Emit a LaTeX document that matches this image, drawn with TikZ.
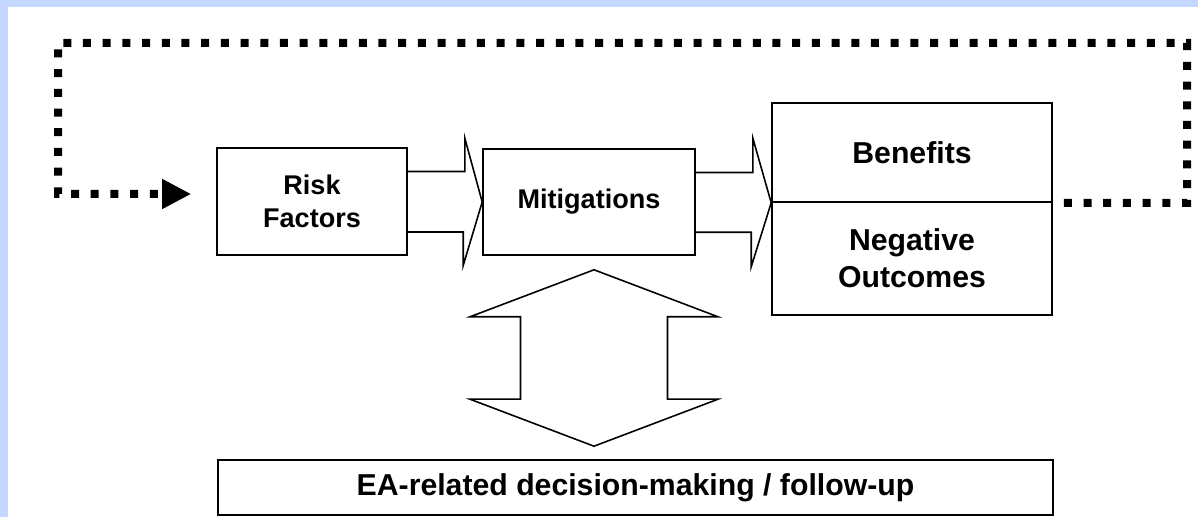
\documentclass[tikz,border=0pt]{standalone}
\usepackage{fontspec}
\setmainfont{Liberation Sans}
\usetikzlibrary{calc,arrows.meta}
\definecolor{bgblue}{RGB}{195,215,255}
\tikzset{
    box/.style={draw, line width=0.45pt, align=center, inner sep=0pt,
        font=\bfseries\fontsize{7.7}{9.4}\selectfont},
    bigtext/.style={font=\bfseries\fontsize{8.6}{10.5}\selectfont},
    blockarrow/.style={draw, line width=0.45pt, line join=miter},
    feedback/.style={line width=0.08cm, dash pattern=on 0.08cm off 0.117cm,
        -{Triangle[length=0.29cm,width=0.28cm]}}
}
\begin{document}
\begin{tikzpicture}
        \useasboundingbox (0, 0) rectangle (11.98, 5.17);
        \fill[bgblue] (0, 0) rectangle (11.98, 5.17);
        \fill[white] (0.08, 0) rectangle (11.98, 5.10);

        \node[box, minimum width=1.90cm, minimum height=1.07cm] (risk) at (3.12, 3.155) {Risk\\Factors};
        \node[box, minimum width=2.12cm, minimum height=1.06cm] (mitig) at (5.89, 3.15) {Mitigations};
        \node[box, bigtext, minimum width=2.80cm, minimum height=0.99cm] (ben) at (9.12, 3.645) {Benefits};
        \node[box, bigtext, minimum width=2.80cm, minimum height=1.13cm] (neg) at (9.12, 2.585) {Negative\\Outcomes};
        \node[box, bigtext, minimum width=8.35cm, minimum height=0.55cm] (ea) at (6.355, 0.295) {EA-related decision-making / follow-up};

        \draw[blockarrow] ($(risk.east)+(0, 0.30)$) -- ++(0.57, 0) -- ++(0, 0.335) --
              (mitig.west) -- ++(-0.19, -0.635) -- ++(0, 0.335) -- ++(-0.57, 0);
        \draw[blockarrow] ($(mitig.east)+(0, 0.295)$) -- ++(0.57, 0) -- ++(0, 0.345) --
              (ben.south west) -- ++(-0.20, -0.64) -- ++(0, 0.345) -- ++(-0.57, 0);

        \coordinate (up) at ($(mitig.south)+(0.05, -0.14)$);
        \coordinate (dn) at ($(up |- ea.north)+(0, 0.13)$);
        \draw[blockarrow] (up) -- ++(1.24, -0.47) -- ++(-0.505, 0) --
              ($(dn)+(0.735, 0.47)$) -- ++(0.505, 0) --
              (dn) -- ++(-1.24, 0.47) -- ++(0.505, 0) --
              ($(up)+(-0.735, -0.47)$) -- ++(-0.505, 0) -- cycle;

        \coordinate (loopend) at ($(risk.west)+(-0.25, 0.075)$);
        \draw[feedback] ($(ben.south east)+(0.11, 0)$) -| (11.87, 4.74) -| (0.58, 3.23) -- (loopend);
    \end{tikzpicture}
\end{document}
